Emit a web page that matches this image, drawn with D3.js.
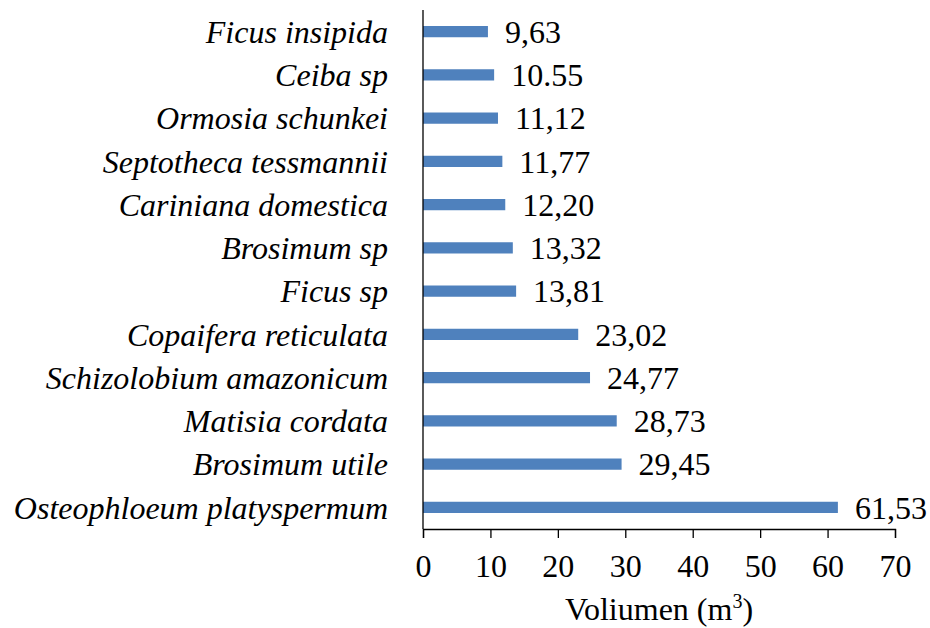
<!DOCTYPE html>
<html>
<head>
<meta charset="utf-8">
<script src="https://cdn.jsdelivr.net/npm/d3@7"></script>
<style>
  body { margin: 0; background: #fff; }
  text { font-family: "Liberation Serif", "Times New Roman", serif; fill: #000; }
</style>
</head>
<body>
<div class="canvas"></div>
<script>
const species = [
  'Ficus insipida', 'Ceiba sp', 'Ormosia schunkei', 'Septotheca tessmannii',
  'Cariniana domestica', 'Brosimum sp', 'Ficus sp', 'Copaifera reticulata',
  'Schizolobium amazonicum', 'Matisia cordata', 'Brosimum utile',
  'Osteophloeum platyspermum'
];
const volumes = [9.63, 10.55, 11.12, 11.77, 12.20, 13.32, 13.81, 23.02, 24.77, 28.73, 29.45, 61.53];
// labels as printed in the source (mixed decimal separators)
const valueLabels = ['9,63', '10.55', '11,12', '11,77', '12,20', '13,32', '13,81', '23,02', '24,77', '28,73', '29,45', '61,53'];
const xTicks = [0, 10, 20, 30, 40, 50, 60, 70];

const dims = { width: 930, height: 628 };
const margin = { top: 10, right: 35, bottom: 99, left: 423 };
const graphWidth = dims.width - margin.left - margin.right;
const graphHeight = dims.height - margin.top - margin.bottom;
const fontSize = '32px';

const svg = d3.select('.canvas').append('svg')
  .attr('width', dims.width)
  .attr('height', dims.height);

const graph = svg.append('g')
  .attr('transform', `translate(${margin.left}, ${margin.top})`);

const x = d3.scaleLinear().domain([0, 70]).range([0, graphWidth]);
const y = d3.scaleBand().domain(species).range([0, graphHeight]).paddingInner(0.74).paddingOuter(0.37);

const rows = species.map((s, i) => ({ name: s, value: volumes[i], label: valueLabels[i] }));

// bars
graph.selectAll('rect')
  .data(rows)
  .enter()
  .append('rect')
    .attr('x', x(0))
    .attr('y', d => y(d.name))
    .attr('width', d => x(d.value) - x(0))
    .attr('height', y.bandwidth())
    .attr('fill', '#4f81bd');

// value labels
graph.selectAll('text.val')
  .data(rows)
  .enter()
  .append('text')
    .attr('class', 'val')
    .attr('x', d => x(d.value) + 17)
    .attr('y', d => y(d.name) + y.bandwidth() / 2)
    .attr('dy', '0.35em')
    .style('font-size', fontSize)
    .text(d => d.label);

// species labels
graph.selectAll('text.sp')
  .data(rows)
  .enter()
  .append('text')
    .attr('class', 'sp')
    .attr('x', -35)
    .attr('y', d => y(d.name) + y.bandwidth() / 2)
    .attr('dy', '0.35em')
    .attr('text-anchor', 'end')
    .style('font-size', fontSize)
    .style('font-style', 'italic')
    .text(d => d.name);

// y axis line
graph.append('line')
  .attr('x1', 0).attr('x2', 0)
  .attr('y1', 0).attr('y2', graphHeight)
  .attr('stroke', '#000')
  .attr('stroke-width', 1.3);

// x axis
const xAxis = d3.axisBottom(x).tickValues(xTicks).tickSize(9).tickPadding(16);
const gx = graph.append('g')
  .attr('transform', `translate(0, ${graphHeight})`)
  .call(xAxis);
gx.select('.domain').attr('stroke-width', 1.3);
gx.selectAll('.tick line').attr('stroke-width', 1.3);
gx.selectAll('.tick text')
  .style('font-family', '"Liberation Serif", "Times New Roman", serif')
  .style('font-size', fontSize)
  .attr('fill', '#000');

// axis title
const title = svg.append('text')
  .attr('x', margin.left + x(35))
  .attr('y', 620)
  .attr('text-anchor', 'middle')
  .style('font-size', fontSize);
title.append('tspan').text('Voliumen (m');
title.append('tspan').attr('dy', -12).style('font-size', '20px').text('3');
title.append('tspan').attr('dy', 12).text(')');
</script>
</body>
</html>
